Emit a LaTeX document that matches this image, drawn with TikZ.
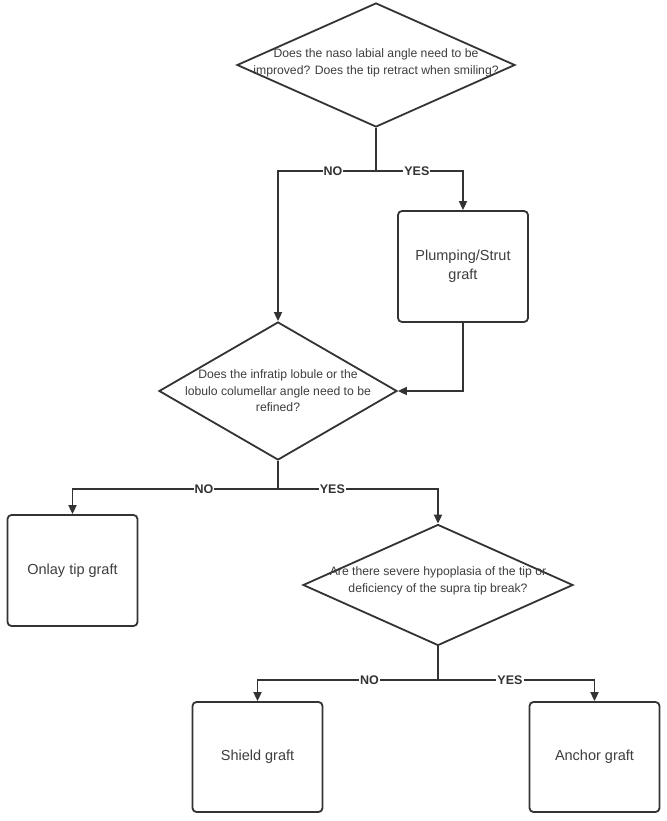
\documentclass[tikz,border=0pt]{standalone}
\usepackage{fontspec}
\setmainfont{Liberation Sans}
\usepackage{xcolor}
\usepackage{tikz}
\usetikzlibrary{arrows.meta,positioning,shapes.geometric}
\definecolor{flowgrey}{RGB}{51,51,51}
\definecolor{textgrey}{RGB}{62,62,62}

\begin{document}
\begin{tikzpicture}[x=1pt,y=-1pt,>={Triangle[length=9pt,width=8pt]},line width=1.8pt,
  decision/.style={diamond,draw=flowgrey,fill=white,inner sep=0pt},
  qtext/.style={text=textgrey,align=center,font=\fontsize{12.2}{16.5}\selectfont},
  graftbox/.style={draw=flowgrey,fill=white,rounded corners=4pt,minimum width=130pt,minimum height=111pt,
    text=textgrey,align=center,font=\fontsize{14.5}{18.5}\selectfont},
  flow/.style={->,draw=flowgrey},
  answer/.style={fill=white,inner sep=1pt,text=flowgrey,font=\bfseries\fontsize{12.5}{13}\selectfont}]
  \fill[white] (0,0) rectangle (666,821);
  \useasboundingbox (0,0) rectangle (666,821);
  % questions and grafts
  \node[decision,minimum width=278pt,minimum height=124pt] (q1) at (376,65) {};
  \node[qtext] (q1t) at ([yshift=2pt]q1) {Does the naso labial angle need to be\\improved? Does the tip retract when smiling?};
  \node[graftbox] (plump) at (463,266.5) {Plumping/Strut\\graft};
  \node[decision,minimum width=238pt,minimum height=138pt] (q2) at (278,391) {};
  \node[qtext] (q2t) at (q2) {Does the infratip lobule or the\\lobulo columellar angle need to be\\refined?};
  \node[graftbox] (onlay) at (72.5,570.5) {Onlay tip graft};
  \node[decision,minimum width=270pt,minimum height=121pt] (q3) at (438,585) {};
  \node[qtext] (q3t) at ([yshift=4pt]q3) {Are there severe hypoplasia of the tip or\\deficiency of the supra tip break?};
  \node[graftbox,minimum height=110pt] (shield) at (257.5,757) {Shield graft};
  \node[graftbox,minimum height=110pt] (anchor) at (594.5,757) {Anchor graft};
  % branches
  \coordinate (b1) at (376,171);
  \coordinate (b2) at (278,489);
  \coordinate (b3) at (438,680);
  \draw[draw=flowgrey] (q1.south) -- (b1);
  \draw[flow] (b1) -| node[answer,pos=0.22]{NO} (q2.north);
  \draw[flow] (b1) -| node[answer,pos=0.235]{YES} (plump.north);
  \draw[flow] (plump.south) |- (q2.east);
  \draw[draw=flowgrey] (q2.south) -- (b2);
  \draw[flow] (b2) -| node[answer,pos=0.18]{NO} (onlay.north);
  \draw[flow] (b2) -| node[answer,pos=0.17]{YES} (q3.north);
  \draw[draw=flowgrey] (q3.south) -- (b3);
  \draw[flow] (b3) -| node[answer,pos=0.19]{NO} (shield.north);
  \draw[flow] (b3) -| node[answer,pos=0.23]{YES} (anchor.north);
\end{tikzpicture}
\end{document}
